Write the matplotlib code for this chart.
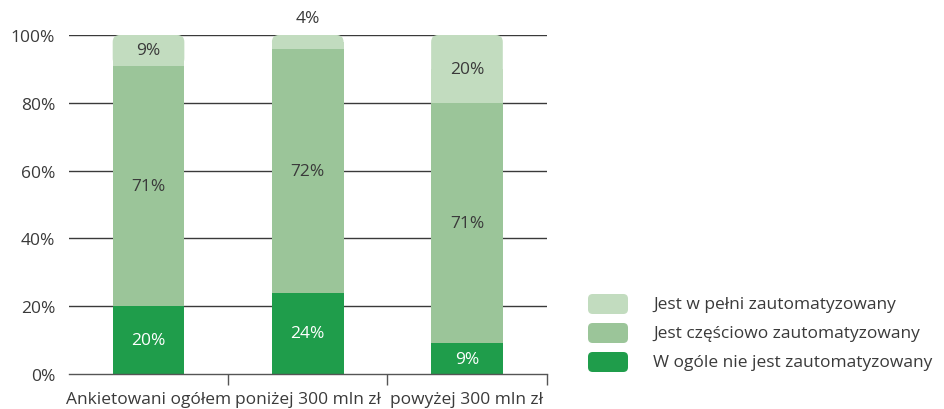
import numpy as np
import matplotlib
matplotlib.use("Agg")
import matplotlib.pyplot as plt
from matplotlib.patches import FancyBboxPatch

# Dane: udział (%) wg stopnia automatyzacji
categories = ["Ankietowani ogółem", "poniżej 300 mln zł", "powyżej 300 mln zł"]
nie_jest = [20, 24, 9]
czesciowo = [71, 72, 71]
w_pelni = [9, 4, 20]
series_labels = ["Jest w pełni zautomatyzowany",
                 "Jest częściowo zautomatyzowany",
                 "W ogóle nie jest zautomatyzowany"]
y_ticks = [0, 20, 40, 60, 80, 100]

c_full = "#c2dcbf"
c_part = "#9bc599"
c_none = "#1f9d4b"
txt = "#3a3a3a"
fs = 12.5

plt.rcParams["font.family"] = ["Open Sans", "DejaVu Sans"]

fig = plt.figure(figsize=(9.44, 4.10), dpi=100)
ax = fig.add_axes([0.073, 0.0854, 0.506, 0.8268])

x = np.arange(len(categories))
w = 0.45

# siatka pozioma pod słupkami
for t in y_ticks[1:]:
    ax.axhline(t, color="#3a3a3a", lw=1.0, zorder=0)

b0 = np.array(nie_jest)
b1 = b0 + np.array(czesciowo)
ax.bar(x, nie_jest, w, color=c_none, zorder=2)
ax.bar(x, czesciowo, w, bottom=b0, color=c_part, zorder=2)

# górny segment z zaokrąglonymi narożnikami
x_px = 478 / 3.0
y_px = 339 / 100.0
r = 7.0 / x_px
for xi, bot, h in zip(x, b1, w_pelni):
    p = FancyBboxPatch((xi - w / 2, bot), w, h,
                       boxstyle=f"round,pad=0,rounding_size={r}",
                       mutation_aspect=x_px / y_px,
                       fc=c_full, ec="none", zorder=2)
    ax.add_patch(p)
    ax.bar(xi, h / 2, w, bottom=bot, color=c_full, zorder=2)

# etykiety wartości
for xi, v in zip(x, nie_jest):
    ax.text(xi, v / 2, f"{v}%", ha="center", va="center", color="white",
            fontsize=fs, zorder=3)
for xi, b, v in zip(x, b0, czesciowo):
    ax.text(xi, b + v / 2, f"{v}%", ha="center", va="center", color=txt,
            fontsize=fs, zorder=3)
for xi, b, v in zip(x, b1, w_pelni):
    yv = b + v / 2 if v >= 8 else 105
    ax.text(xi, yv, f"{v}%", ha="center", va="center", color=txt,
            fontsize=fs, zorder=3, clip_on=False)

ax.set_xlim(-0.5, 2.5)
ax.set_ylim(0, 100)
ax.set_yticks(y_ticks)
ax.set_yticklabels([f"{t}%" for t in y_ticks], color=txt, fontsize=fs)
ax.tick_params(axis="y", length=0, pad=10)

ax.set_xticks(x)
ax.set_xticklabels(categories, color=txt, fontsize=fs)
ax.set_xticks(list(x[1:] - 0.5) + [2.5], minor=True)
ax.tick_params(axis="x", which="major", length=0, pad=12)
ax.tick_params(axis="x", which="minor", length=8, width=1, color="#555555",
               direction="out")

for s in ["top", "right", "left"]:
    ax.spines[s].set_visible(False)
ax.spines["bottom"].set_color("#555555")
ax.spines["bottom"].set_linewidth(1.0)

# legenda
leg_rows = [(series_labels[0], c_full, 305),
            (series_labels[1], c_part, 334),
            (series_labels[2], c_none, 363)]
for lab, col, yp in leg_rows:
    fy = 1 - yp / 410
    patch = FancyBboxPatch((588 / 944, fy - 10 / 410), 40 / 944, 20 / 410,
                           boxstyle="round,pad=0,rounding_size=0.005",
                           mutation_aspect=944 / 410,
                           transform=fig.transFigure, fc=col, ec="none")
    fig.patches.append(patch)
    fig.text(653 / 944, fy, lab, ha="left", va="center", color=txt, fontsize=fs)

fig.savefig("out.png", dpi=100)
